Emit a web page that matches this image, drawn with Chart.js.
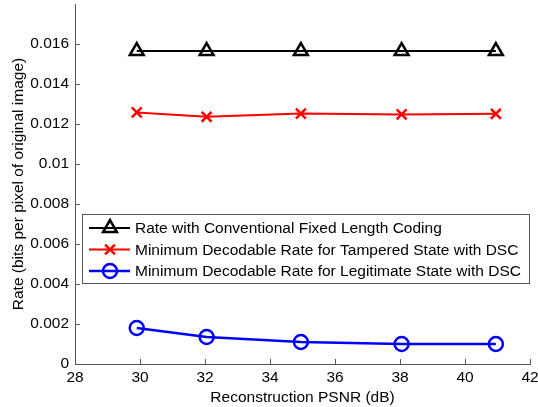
<!DOCTYPE html>
<html>
<head>
<meta charset="utf-8">
<script src="https://cdn.jsdelivr.net/npm/chart.js@4"></script>
<style>
  html, body { margin: 0; padding: 0; background: #fff; }
  #wrap { width: 538px; height: 407px; }
</style>
</head>
<body>
<div id="wrap"><canvas id="chart" width="538" height="407"></canvas></div>
<script>
// dados
const psnr = [29.9, 32.05, 34.95, 38.05, 40.95];
const rateFixed = [0.01565, 0.01565, 0.01565, 0.01565, 0.01565];
const rateTampered = [0.01258, 0.01236, 0.01252, 0.01248, 0.01251];
const rateLegit = [0.0018, 0.00135, 0.0011, 0.001, 0.001];
const seriesNames = [
  "Rate with Conventional Fixed Length Coding",
  "Minimum Decodable Rate for Tampered State with DSC",
  "Minimum Decodable Rate for Legitimate State with DSC"
];
const xTicks = [28, 30, 32, 34, 36, 38, 40, 42];
const yTicks = [0, 0.002, 0.004, 0.006, 0.008, 0.01, 0.012, 0.014, 0.016];

const FONT = "'Liberation Sans', Arial, sans-serif";
const FS = 15.5;

function pts(ys) {
  return psnr.map((x, i) => ({ x: x, y: ys[i] }));
}

// ticks para dentro, como no Matlab
const innerTicks = {
  id: "innerTicks",
  afterDraw(chart) {
    const ctx = chart.ctx;
    const a = chart.chartArea;
    const sx = chart.scales.x, sy = chart.scales.y;
    ctx.save();
    ctx.strokeStyle = "#555";
    ctx.lineWidth = 1;
    ctx.beginPath();
    xTicks.forEach(v => {
      const px = Math.round(sx.getPixelForValue(v)) + 0.5;
      ctx.moveTo(px, a.bottom);
      ctx.lineTo(px, a.bottom - 5);
    });
    yTicks.forEach(v => {
      const py = Math.round(sy.getPixelForValue(v)) + 0.5;
      ctx.moveTo(a.left, py);
      ctx.lineTo(a.left + 5, py);
    });
    ctx.stroke();
    ctx.restore();
  }
};

// legenda dentro do grafico
const boxLegend = {
  id: "boxLegend",
  afterDraw(chart) {
    const ctx = chart.ctx;
    const left = 82, top = 214, w = 447, h = 69;
    ctx.save();
    ctx.fillStyle = "#fff";
    ctx.fillRect(left, top, w, h);
    ctx.strokeStyle = "#555";
    ctx.lineWidth = 1;
    ctx.strokeRect(left + 0.5, top + 0.5, w, h);
    ctx.font = FS + "px " + FONT;
    ctx.textBaseline = "middle";
    chart.data.datasets.forEach((ds, i) => {
      const y = top + 14 + i * 21.5;
      ctx.strokeStyle = ds.borderColor;
      ctx.lineWidth = ds.borderWidth;
      ctx.beginPath();
      ctx.moveTo(89, y);
      ctx.lineTo(130, y);
      ctx.stroke();
      ctx.fillStyle = "rgba(0,0,0,0)";
      ctx.lineWidth = ds.pointBorderWidth;
      Chart.helpers.drawPoint(ctx, {
        pointStyle: ds.pointStyle,
        radius: ds.pointRadius,
        borderWidth: ds.pointBorderWidth,
        rotation: 0
      }, 110, y);
      ctx.fillStyle = "#000";
      ctx.fillText(seriesNames[i], 135, y + 1);
    });
    ctx.restore();
  }
};

new Chart(document.getElementById("chart"), {
  type: "line",
  data: {
    datasets: [
      {
        label: seriesNames[0],
        data: pts(rateFixed),
        borderColor: "#000",
        backgroundColor: "#fff",
        borderWidth: 2,
        pointStyle: "triangle",
        pointRadius: 8,
        pointBorderWidth: 2.5,
        pointBackgroundColor: "rgba(0,0,0,0)"
      },
      {
        label: seriesNames[1],
        data: pts(rateTampered),
        borderColor: "#ff0000",
        backgroundColor: "#ff0000",
        borderWidth: 2,
        pointStyle: "crossRot",
        pointRadius: 7,
        pointBorderWidth: 2.5
      },
      {
        label: seriesNames[2],
        data: pts(rateLegit),
        borderColor: "#0000ff",
        backgroundColor: "#fff",
        borderWidth: 2.5,
        pointStyle: "circle",
        pointRadius: 7,
        pointBorderWidth: 2.5,
        pointBackgroundColor: "rgba(0,0,0,0)"
      }
    ]
  },
  options: {
    responsive: false,
    animation: false,
    layout: { autoPadding: false, padding: { top: 4, right: 8, left: 9, bottom: 0 } },
    plugins: {
      legend: { display: false },
      tooltip: { enabled: false }
    },
    scales: {
      x: {
        type: "linear",
        min: 28,
        max: 42,
        afterBuildTicks: s => { s.ticks = xTicks.map(v => ({ value: v })); },
        afterFit: s => { s.height = 43; s.paddingLeft = 0; s.paddingRight = 0; },
        grid: { drawOnChartArea: false, drawTicks: false },
        border: { color: "#555", width: 1 },
        ticks: {
          color: "#000",
          font: { size: FS, family: FONT },
          padding: 4,
          maxRotation: 0
        },
        title: {
          display: true,
          text: "Reconstruction PSNR (dB)",
          color: "#000",
          font: { size: FS, family: FONT },
          padding: { top: 0, bottom: 0 }
        }
      },
      y: {
        type: "linear",
        min: 0,
        max: 0.018,
        afterBuildTicks: s => { s.ticks = yTicks.map(v => ({ value: v })); },
        afterFit: s => { s.width = 66; s.paddingTop = 0; s.paddingBottom = 0; },
        grid: { drawOnChartArea: false, drawTicks: false },
        border: { color: "#555", width: 1 },
        ticks: {
          color: "#000",
          font: { size: FS, family: FONT },
          padding: 6,
          callback: v => String(+v.toFixed(3))
        },
        title: {
          display: true,
          text: "Rate (bits per pixel of original image)",
          color: "#000",
          font: { size: FS, family: FONT },
          padding: { top: 0, bottom: 2 }
        }
      }
    }
  },
  plugins: [innerTicks, boxLegend]
});
</script>
</body>
</html>
